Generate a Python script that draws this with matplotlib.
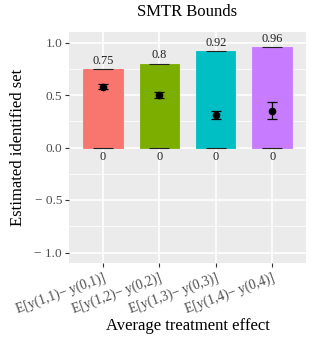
import matplotlib
matplotlib.use("Agg")
import matplotlib.pyplot as plt
from matplotlib.ticker import MultipleLocator

categories = ["E[y(1,1)− y(0,1)]", "E[y(1,2)− y(0,2)]", "E[y(1,3)− y(0,3)]", "E[y(1,4)− y(0,4)]"]
lower = [0, 0, 0, 0]
upper = [0.75, 0.80, 0.92, 0.96]
upper_labels = ["0.75", "0.8", "0.92", "0.96"]
lower_labels = ["0", "0", "0", "0"]
point = [0.58, 0.50, 0.31, 0.35]
point_lo = [0.555, 0.475, 0.267, 0.276]
point_hi = [0.605, 0.525, 0.350, 0.430]
colors = ["#F8766D", "#7CAE00", "#00BFC4", "#C77CFF"]
yticks = [-1.0, -0.5, 0.0, 0.5, 1.0]
ytick_labels = ["− 1.0", "− 0.5", "0.0", "0.5", "1.0"]

plt.rcParams['font.family'] = ['Liberation Serif', 'DejaVu Serif']

fig = plt.figure(figsize=(3.16, 3.47), dpi=100)
ax = fig.add_axes([69/316, 1-263/347, (306-69)/316, (263-32)/347])
ax.set_facecolor("#EBEBEB")
for s in ax.spines.values():
    s.set_visible(False)

x = list(range(1, len(categories)+1))
ax.set_axisbelow(True)
ax.yaxis.set_minor_locator(MultipleLocator(0.25))
ax.grid(which='major', color='white', linewidth=1.1)
ax.grid(which='minor', axis='y', color='white', linewidth=0.55)

heights = [u - l for u, l in zip(upper, lower)]
ax.bar(x, heights, bottom=lower, width=0.7, color=colors, edgecolor=colors, linewidth=0.6, zorder=2)

for xi, u, l, ul, ll in zip(x, upper, lower, upper_labels, lower_labels):
    ax.hlines([u, l], xi-0.18, xi+0.18, color="#222222", linewidth=0.8, zorder=3)
    ax.text(xi, u + 0.02, ul, ha='center', va='bottom', fontsize=8.8, color='#222222')
    ax.text(xi, l - 0.03, ll, ha='center', va='top', fontsize=8.8, color='#222222')

yerr = [[p - lo for p, lo in zip(point, point_lo)], [hi - p for p, hi in zip(point, point_hi)]]
ax.errorbar(x, point, yerr=yerr, fmt='o', color='black', markersize=4.5, capsize=3.5, elinewidth=0.9, capthick=0.9, zorder=4)

ax.set_xlim(0.4, 4.6)
ax.set_ylim(-1.1, 1.1)
ax.set_xticks(x)
ax.set_xticklabels(categories, rotation=20, ha='right', rotation_mode='anchor', fontsize=9.8, color='#4D4D4D')
ax.set_yticks(yticks)
ax.set_yticklabels(ytick_labels, fontsize=9.6, color='#4D4D4D')
ax.tick_params(axis='both', which='major', length=3, width=0.8, color='#333333')
ax.tick_params(axis='y', which='minor', length=0)
ax.tick_params(axis='x', pad=3)
ax.tick_params(axis='y', pad=2)

fig.text(0.5*(69+306)/316, 1-12/347, "SMTR Bounds", fontsize=12, ha='center', va='center')
fig.text(0.5*(69+306)/316, 1-326/347, "Average treatment effect", fontsize=12, ha='center', va='center')
fig.text(18/316, 1-147/347, "Estimated identified set", fontsize=12, ha='center', va='center', rotation=90)

fig.savefig("out.png", dpi=100)
